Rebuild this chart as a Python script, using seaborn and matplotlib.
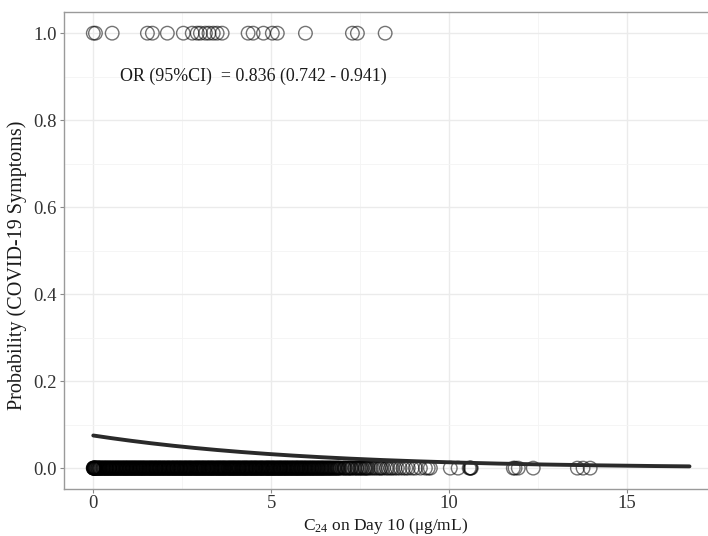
import numpy as np
import pandas as pd
import matplotlib
matplotlib.use("Agg")
import matplotlib.pyplot as plt
from matplotlib.ticker import MultipleLocator
import seaborn as sns

# Day-10 trough concentration (C24, ug/mL) for patients with COVID-19 symptoms
conc_symptomatic = [
    0.00, 0.06, 0.53, 1.52, 1.66, 2.08, 2.53, 2.78, 2.92, 3.01, 3.15, 3.25,
    3.37, 3.48, 3.62, 4.35, 4.49, 4.78, 5.03, 5.17, 5.96, 7.28, 7.42, 8.20,
]

# Day-10 trough concentration for patients without symptoms
conc_asymptomatic = [
    0.00, 0.00, 0.01, 0.02, 0.04, 0.05, 0.07, 0.09, 0.12, 0.14, 0.17, 0.19,
    0.22, 0.26, 0.28, 0.31, 0.35, 0.37, 0.40, 0.44, 0.46, 0.49, 0.53, 0.55,
    0.58, 0.62, 0.64, 0.67, 0.71, 0.73, 0.76, 0.80, 0.83, 0.85, 0.89, 0.92,
    0.94, 0.97,
    1.01, 1.03, 1.06, 1.10, 1.12, 1.15, 1.19, 1.21, 1.24, 1.28, 1.31, 1.33,
    1.37, 1.40, 1.42, 1.46, 1.49, 1.52, 1.55, 1.58, 1.61, 1.64, 1.67, 1.70,
    1.74, 1.76, 1.79, 1.83, 1.86, 1.88, 1.92, 1.95, 1.98,
    2.01, 2.04, 2.08, 2.11, 2.13, 2.17, 2.20, 2.23, 2.26, 2.29, 2.33, 2.35,
    2.38, 2.42, 2.45, 2.47, 2.51, 2.54, 2.57, 2.60, 2.63, 2.66, 2.70, 2.72,
    2.75, 2.79, 2.82, 2.85, 2.88, 2.91, 2.94, 2.97,
    3.00, 3.03, 3.07, 3.10, 3.12, 3.16, 3.19, 3.22, 3.25, 3.28, 3.32, 3.34,
    3.37, 3.41, 3.44, 3.47, 3.50, 3.53, 3.56, 3.59, 3.62, 3.66, 3.68, 3.71,
    3.75, 3.78, 3.81, 3.84, 3.87, 3.90, 3.93, 3.96, 3.99,
    4.02, 4.06, 4.09, 4.11, 4.15, 4.18, 4.21, 4.24, 4.28, 4.30, 4.33, 4.37,
    4.40, 4.43, 4.46, 4.49, 4.53, 4.56, 4.58, 4.62, 4.65, 4.68, 4.72, 4.74,
    4.77, 4.81, 4.84, 4.87, 4.90, 4.93, 4.96, 4.99,
    5.03, 5.06, 5.08, 5.12, 5.15, 5.18, 5.22, 5.25, 5.27, 5.31, 5.34, 5.37,
    5.41, 5.44, 5.47, 5.50, 5.54, 5.57, 5.60, 5.63, 5.67, 5.70, 5.73, 5.76,
    5.80, 5.83, 5.86, 5.90, 5.93, 5.97,
    6.00, 6.04, 6.07, 6.11, 6.14, 6.18, 6.21, 6.25, 6.29, 6.32, 6.36, 6.40,
    6.43, 6.47, 6.51, 6.55, 6.59, 6.63, 6.67, 6.71, 6.76, 6.80, 6.85, 6.89,
    6.94,
    6.99, 7.04, 7.08, 7.13, 7.18, 7.22, 7.27, 7.33, 7.36, 7.42, 7.47, 7.50,
    7.56, 7.61, 7.66, 7.70, 7.73, 7.79, 7.84, 7.90, 7.95, 8.01, 8.06, 8.09,
    8.15, 8.23, 8.28, 8.35, 8.40, 8.47, 8.54, 8.62, 8.71, 8.78, 8.85, 8.96,
    9.05, 9.19, 9.33, 9.41, 9.47,
    10.03, 10.25, 10.56, 10.59, 10.60, 10.62, 11.80, 11.85, 11.94, 12.36,
    13.60, 13.76, 13.96,
    # second batch of asymptomatic patients (low-exposure cohort)
    0.01, 0.03, 0.03, 0.06, 0.08, 0.11, 0.13, 0.16, 0.18, 0.21, 0.24, 0.27,
    0.30, 0.33, 0.36, 0.38, 0.42, 0.45, 0.47, 0.51, 0.54, 0.57, 0.60, 0.63,
    0.66, 0.69, 0.72, 0.75, 0.78, 0.81, 0.84, 0.87, 0.90, 0.93, 0.96, 0.99,
    1.02, 1.05, 1.08, 1.11, 1.14, 1.17, 1.20, 1.23, 1.26, 1.29, 1.32, 1.35,
    1.38, 1.41, 1.44, 1.47, 1.50, 1.54, 1.57, 1.60, 1.63, 1.66, 1.69, 1.72,
    1.75, 1.78, 1.81, 1.84, 1.87, 1.90, 1.93, 1.97, 1.99,
    2.03, 2.06, 2.09, 2.12, 2.15, 2.18, 2.22, 2.25, 2.27, 2.31, 2.34, 2.37,
    2.40, 2.43, 2.46, 2.49, 2.53, 2.56, 2.59, 2.62, 2.65, 2.68, 2.71, 2.74,
    2.77, 2.80, 2.84, 2.87, 2.90, 2.93, 2.96, 2.99,
    3.02, 3.05, 3.08, 3.11, 3.14, 3.18, 3.21, 3.24, 3.27, 3.30, 3.33, 3.36,
    3.39, 3.42, 3.46, 3.49, 3.52, 3.55, 3.58, 3.61, 3.64, 3.67, 3.70, 3.73,
    3.77, 3.80, 3.83, 3.86, 3.89, 3.92, 3.95, 3.98,
    4.01, 4.04, 4.07, 4.10, 4.13, 4.17, 4.20, 4.23, 4.26, 4.29, 4.32, 4.35,
    4.39, 4.42, 4.45, 4.48, 4.51, 4.54, 4.57, 4.60, 4.64, 4.67, 4.70, 4.73,
    4.76, 4.79, 4.83, 4.86, 4.89, 4.92, 4.95, 4.98,
    5.01, 5.04, 5.07, 5.10, 5.14, 5.17, 5.20, 5.23, 5.26, 5.29, 5.33, 5.36,
    5.39, 5.42, 5.45, 5.49, 5.52, 5.55, 5.59, 5.62, 5.65, 5.69, 5.72, 5.75,
    5.78, 5.82, 5.85, 5.88, 5.92, 5.95, 5.98,
    6.02, 6.06, 6.09, 6.13, 6.16, 6.20, 6.23, 6.27, 6.31, 6.34, 6.38, 6.42,
    6.45, 6.49, 6.53, 6.57, 6.61, 6.65, 6.69, 6.74, 6.78, 6.83, 6.87, 6.92,
    7.06, 7.16, 7.25, 7.40, 7.53, 7.64,
]

# Fitted logistic model: odds ratio per ug/mL and baseline probability at C24 = 0
odds_ratio = 0.836
ci_low, ci_high = 0.742, 0.941
baseline_prob = 0.075
fit_range = (0.0, 16.75)

y_ticks = [0.0, 0.2, 0.4, 0.6, 0.8, 1.0]
x_ticks = [0, 5, 10, 15]

points = pd.DataFrame({
    "conc": conc_symptomatic + conc_asymptomatic,
    "symptoms": [1.0] * len(conc_symptomatic) + [0.0] * len(conc_asymptomatic),
})

intercept = np.log(baseline_prob / (1 - baseline_prob))
slope = np.log(odds_ratio)
grid = np.linspace(fit_range[0], fit_range[1], 300)
curve = pd.DataFrame({"conc": grid,
                      "prob": 1 / (1 + np.exp(-(intercept + slope * grid)))})

sns.set_style("whitegrid")
plt.rcParams["font.family"] = ["Liberation Serif", "DejaVu Serif"]
plt.rcParams["mathtext.fontset"] = "custom"
plt.rcParams["mathtext.rm"] = "Liberation Serif"

fig = plt.figure(figsize=(7.08, 5.36), dpi=100)
ax = fig.add_axes([63.5 / 708, 47 / 536, 1 - 63.5 / 708, (489 - 12.3) / 536])

sns.scatterplot(data=points, x="conc", y="symptoms", ax=ax, marker="o",
                s=95, facecolor="none", edgecolor=(0, 0, 0, 0.55),
                linewidth=1.0, legend=False, zorder=3)
sns.lineplot(data=curve, x="conc", y="prob", ax=ax, color="#2a2a2a",
             linewidth=2.8, zorder=4)

ax.set_xlim(-0.837, 17.27)
ax.set_ylim(-0.048, 1.048)
ax.set_xticks(x_ticks)
ax.set_yticks(y_ticks)
ax.set_yticklabels([f"{v:.1f}" for v in y_ticks])
ax.xaxis.set_minor_locator(MultipleLocator(2.5))
ax.yaxis.set_minor_locator(MultipleLocator(0.1))

ax.set_facecolor("white")
ax.grid(which="major", color="#ebebeb", linewidth=1.0)
ax.grid(which="minor", color="#f4f4f4", linewidth=0.6)
ax.set_axisbelow(True)
for side in ["left", "bottom", "top"]:
    ax.spines[side].set_visible(True)
    ax.spines[side].set_color("#9a9a9a")
    ax.spines[side].set_linewidth(1.0)
ax.spines["right"].set_visible(False)

ax.tick_params(which="major", length=3, width=0.8, color="#8a8a8a",
               labelsize=13.5, labelcolor="#333333")
ax.tick_params(axis="x", pad=1.5)
ax.tick_params(axis="y", pad=2)
ax.tick_params(which="minor", length=0)
ax.tick_params(axis="x", bottom=True)
ax.tick_params(axis="y", left=True)

ax.set_xlabel(r"C$\mathregular{_{24}}$ on Day 10 (μg/mL)", fontsize=12.5,
              color="#1a1a1a", labelpad=3)
ax.set_ylabel("Probability (COVID-19 Symptoms)", fontsize=14.5,
              color="#1a1a1a")
ax.yaxis.set_label_coords(-0.057, 0.47)

ax.text(0.75, 0.90,
        f"OR (95%CI)  = {odds_ratio:.3f} ({ci_low:.3f} - {ci_high:.3f})",
        fontsize=12.9, color="#1a1a1a", ha="left", va="center")

fig.savefig("out.png", dpi=100)
